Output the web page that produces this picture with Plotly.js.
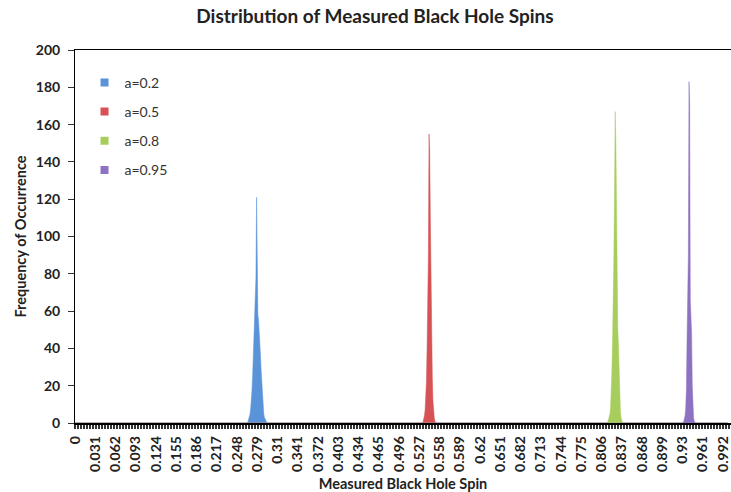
<!DOCTYPE html>
<html>
<head>
<meta charset="utf-8">
<script src="https://cdn.plot.ly/plotly-3.0.1.min.js"></script>
<style>html,body{margin:0;padding:0;background:#fff;}#chart{width:731px;height:492px;}</style>
</head>
<body>
<div id="chart"></div>
<script>
// Bins of measured spin (category axis 0.000 ... 0.999, step 0.001)
const binCount = 1000;
const binStep = 0.001;

// Tick labels shown on the x axis (every 31st bin)
const xTickValues = [0,0.031,0.062,0.093,0.124,0.155,0.186,0.217,0.248,0.279,0.31,0.341,0.372,0.403,0.434,0.465,0.496,0.527,0.558,0.589,0.62,0.651,0.682,0.713,0.744,0.775,0.806,0.837,0.868,0.899,0.93,0.961,0.992];
const xTickLabels = ["0","0.031","0.062","0.093","0.124","0.155","0.186","0.217","0.248","0.279","0.31","0.341","0.372","0.403","0.434","0.465","0.496","0.527","0.558","0.589","0.62","0.651","0.682","0.713","0.744","0.775","0.806","0.837","0.868","0.899","0.93","0.961","0.992"];

// Series: first non-zero bin index and counts (all other bins are 0)
const seriesNames = ["a=0.2","a=0.5","a=0.8","a=0.95"];
const spin02StartBin = 265;
const spin02Counts = [1,2,3,5,8,12,18,26,36,45,52,60,78,121,62,58,55,50,44,36,28,20,13,8,5,3,2,1];
const spin05StartBin = 533;
const spin05Counts = [1,2,4,7,12,22,40,62,90,155,146,110,70,45,25,12,6,3,1];
const spin08StartBin = 816;
const spin08Counts = [1,2,3,5,9,16,28,45,62,90,125,167,152,110,75,50,42,25,12,6,3,1];
const spin095StartBin = 932;
const spin095Counts = [1,2,4,8,18,45,62,90,183,172,66,59,48,20,8,3,1];

const seriesColors = ["#5B93D9","#D65254","#A7CE5C","#8E72C2"];

const bins = [];
for (let i = 0; i < binCount; i++) bins.push(+(i * binStep).toFixed(3));

function fullSeries(start, counts) {
  const arr = new Array(binCount).fill(0);
  counts.forEach((c, k) => { arr[start + k] = c; });
  return arr;
}
const seriesValues = [
  fullSeries(spin02StartBin, spin02Counts),
  fullSeries(spin05StartBin, spin05Counts),
  fullSeries(spin08StartBin, spin08Counts),
  fullSeries(spin095StartBin, spin095Counts)
];

const traces = [];
seriesValues.forEach((vals, i) => {
  traces.push({
    type: 'scatter', mode: 'lines', x: bins, y: vals,
    fill: 'tozeroy', fillcolor: seriesColors[i],
    line: {color: seriesColors[i], width: 0.5},
    showlegend: false, hoverinfo: 'skip'
  });
});
// legend entries with square swatches
seriesNames.forEach((n, i) => {
  traces.push({
    type: 'scatter', mode: 'markers', x: [null], y: [null], name: n,
    legendgroup: 'g' + i,
    marker: {symbol: 'square', size: 8, color: seriesColors[i]},
    showlegend: true
  });
});

const FAM = 'Lato, "Open Sans", sans-serif';
const tickFont = {family: FAM, size: 14, color: '#222', weight: 'bold'};
const axTitleFont = {family: FAM, size: 14.5, color: '#222', weight: 'bold'};
const xMax = 1.0043;
const pxPerUnit = 656 / xMax;

const layout = {
  width: 731, height: 492,
  margin: {l: 75, r: 0, t: 50, b: 69},
  paper_bgcolor: '#fff', plot_bgcolor: '#fff',
  title: {
    text: 'Distribution of Measured Black Hole Spins',
    font: {family: FAM, size: 19, color: '#222', weight: 'bold'},
    x: 0.513, xanchor: 'center', xref: 'container',
    y: 1 - 16/492, yanchor: 'middle', yref: 'container'
  },
  xaxis: {
    range: [0, xMax], showgrid: false, zeroline: false,
    showline: true, linecolor: '#000', linewidth: 1.5, mirror: true,
    tickmode: 'array', tickvals: xTickValues, ticktext: xTickLabels,
    tickangle: -90, ticks: 'outside', ticklen: 4, tickcolor: 'rgba(0,0,0,0)',
    ticklabelstandoff: 2, ticklabeloverflow: 'allow',
    tickfont: tickFont,
    minor: {dtick: 3 / pxPerUnit, tick0: 0, ticks: 'outside', ticklen: 4, tickcolor: '#333', tickwidth: 2, showgrid: false},
    title: {text: 'Measured Black Hole Spin', font: axTitleFont, standoff: 8},
    automargin: false
  },
  yaxis: {
    range: [0, 200], dtick: 20, showgrid: false, zeroline: false,
    showline: true, linecolor: '#000', linewidth: 1,
    ticks: 'outside', ticklen: 6, tickcolor: '#333',
    ticklabelstandoff: 5,
    tickfont: tickFont,
    title: {text: 'Frequency of Occurrence', font: axTitleFont, standoff: 5},
    automargin: false
  },
  legend: {
    x: 0.0145, y: 0.955, xanchor: 'left', yanchor: 'top',
    font: {family: FAM, size: 14, color: '#333'},
    bgcolor: 'rgba(0,0,0,0)', tracegroupgap: 8, itemwidth: 30
  },
  showlegend: true
};

Plotly.newPlot('chart', traces, layout, {displayModeBar: false, staticPlot: true});
</script>
</body>
</html>
